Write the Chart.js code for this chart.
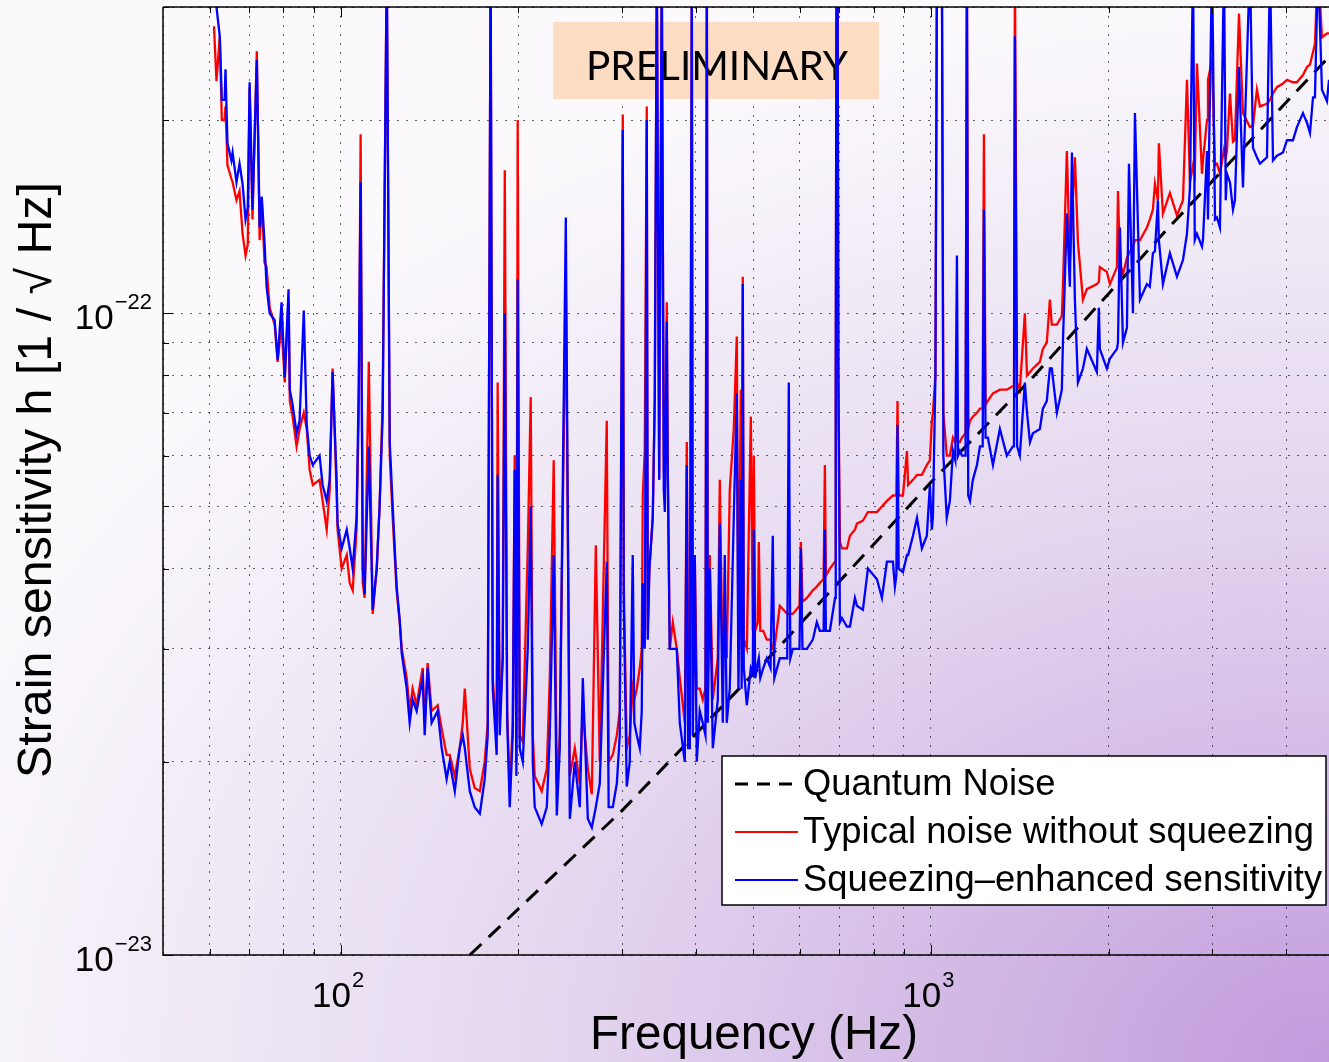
<!DOCTYPE html>
<html lang="en">
<head>
<meta charset="UTF-8">
<title>Strain sensitivity with and without squeezing</title>
<script src="https://cdn.jsdelivr.net/npm/chart.js"></script>
<style>
  html, body { margin: 0; padding: 0; }
  body {
    width: 1329px; height: 1062px; overflow: hidden;
    background: radial-gradient(ellipse 110% 100% at 100% 100%, #c29adc 0%, #d3bbe6 28%, #e3d5ef 52%, #efe8f5 76%, #fbf9fc 100%);
  }
  #chart { display: block; }
</style>
</head>
<body>
<canvas id="chart" width="1329" height="1062"></canvas>
<script>
// frequencies (Hz) shared by both measured traces
const freq = [
  61.0, 61.6, 62.4, 62.9, 63.6, 63.8, 64.3, 65.3, 65.6, 66.6, 67.4, 68.2, 69.0, 69.6, 70.1, 70.9,
  72.1, 72.9, 73.5, 74.3, 74.9, 75.8, 77.3, 78.2, 79.4, 80.4, 81.6, 82.0, 82.9, 84.2, 85.2, 86.6,
  87.6, 88.6, 89.7, 92.1, 93.2, 94.7, 95.8, 96.9, 98.4, 98.8, 100.4, 102.4, 103.6, 104.8, 106.4, 107.3,
  108.1, 109.0, 109.8, 111.6, 113.3, 115.1, 116.4, 117.8, 119.7, 121.1, 122.5, 124.4, 125.9, 126.9, 129.4, 130.9,
  132.4, 134.5, 137.7, 138.8, 140.4, 142.6, 146.0, 148.3, 151.2, 153.0, 156.1, 159.1, 161.0, 162.3, 165.5, 168.7,
  172.1, 175.4, 177.5, 179.5, 181.0, 183.8, 184.5, 186.0, 188.2, 189.7, 191.5, 193.4, 195.7, 197.2, 198.5, 199.5,
  201.1, 203.5, 207.5, 209.9, 211.6, 213.2, 219.1, 223.5, 226.1, 229.6, 232.4, 235.1, 240.7, 244.5, 249.3, 254.2,
  257.2, 262.3, 266.4, 270.6, 274.8, 282.4, 284.5, 289.1, 293.7, 297.1, 298.3, 300.6, 301.8, 305.3, 308.9, 312.5,
  314.5, 317.5, 321.2, 323.7, 325.0, 327.5, 330.1, 331.4, 333.5, 337.9, 340.6, 343.3, 346.5, 350.0, 352.8, 354.2,
  356.9, 358.3, 361.1, 365.4, 371.1, 375.5, 382.9, 385.9, 388.0, 390.5, 393.5, 395.1, 398.1, 401.2, 405.9, 410.7,
  415.0, 417.3, 418.8, 422.1, 427.1, 435.5, 438.9, 444.1, 447.5, 451.0, 456.3, 463.5, 469.0, 472.0, 476.4, 478.0,
  480.1, 482.0, 487.7, 495.4, 499.2, 501.2, 504.0, 509.1, 511.1, 514.0, 520.0, 527.2, 535.0, 539.7, 543.0, 554.7,
  571.0, 574.5, 578.0, 583.6, 599.0, 602.2, 606.0, 616.5, 631.0, 640.9, 648.5, 658.0, 661.3, 664.0, 674.4, 688.0,
  690.0, 692.0, 695.0, 697.0, 701.3, 706.9, 720.7, 729.2, 743.6, 749.4, 767.1, 782.3, 810.3, 826.2, 842.4, 862.4,
  869.1, 874.0, 878.0, 882.0, 896.8, 911.0, 915.0, 932.6, 947.3, 965.5, 984.5, 996.1, 1004, 1008, 1018, 1024,
  1044, 1050, 1064, 1077, 1090, 1100, 1107, 1112, 1120, 1129, 1145, 1151, 1157, 1165, 1178, 1197,
  1211, 1224, 1230, 1238, 1249, 1274, 1309, 1345, 1377, 1383, 1388, 1400, 1415, 1443, 1455, 1472,
  1489, 1530, 1548, 1572, 1591, 1603, 1635, 1667, 1674, 1700, 1720, 1734, 1754, 1775, 1810, 1838,
  1911, 1926, 1933, 1987, 2011, 2067, 2075, 2091, 2116, 2149, 2166, 2200, 2217, 2261, 2323, 2350,
  2378, 2397, 2425, 2434, 2473, 2541, 2612, 2674, 2716, 2748, 2781, 2800, 2824, 2880, 2891, 2937,
  2948, 2995, 3030, 3053, 3089, 3138, 3160, 3174, 3212, 3250, 3275, 3327, 3379, 3472, 3514, 3568,
  3611, 3711, 3755, 3799, 3858, 3950, 4012, 4107, 4171, 4270, 4338, 4389, 4441, 4475, 4528, 4599,
  4690, 4727
];

// strain, in units of 1e-23 / sqrt(Hz): typical noise without squeezing (red)
const typical = [
  28, 23, 27, 20, 20, 21, 17, 16.2, 16, 15, 15.5, 13.3, 12.3, 12.8, 22.5, 14,
  25.6, 13, 15, 12, 11.8, 10.2, 9.6, 8.4, 9.6, 7.8, 10.5, 7.3, 6.9, 6.2, 6.6, 7.0,
  6.6, 5.7, 5.4, 5.5, 5.1, 4.6, 5.3, 8.2, 5.3, 4.6, 4.0, 4.2, 3.8, 3.7, 4.6, 7.0,
  19, 3.8, 3.6, 8.4, 3.4, 4.0, 5.0, 7.3, 35, 6.0, 4.8, 3.7, 3.3, 3.0, 2.7, 2.4,
  2.6, 2.45, 2.8, 2.3, 2.85, 2.4, 2.45, 2.25, 2.05, 2.05, 1.9, 2.1, 2.3, 2.6, 1.95, 1.82,
  1.8, 2.0, 2.3, 35, 2.7, 2.2, 7.8, 2.3, 2.95, 16.7, 2.4, 1.8, 2.3, 6.0, 2.0, 20,
  2.2, 2.15, 4.3, 7.4, 2.2, 1.9, 1.8, 1.95, 2.7, 5.9, 1.85, 2.2, 11.0, 1.9, 2.1, 1.85,
  2.4, 1.95, 1.78, 4.35, 2.0, 6.8, 2.0, 2.05, 2.2, 2.4, 4.5, 20.4, 3.8, 2.1, 2.2, 2.6,
  2.5, 2.6, 2.8, 3.0, 5.2, 6.1, 21, 3.2, 4.0, 4.8, 7.4, 35, 5.5, 35, 5.7, 5.2,
  10.4, 5.8, 3.0, 3.3, 3.0, 2.7, 2.3, 6.3, 2.6, 2.6, 35, 2.4, 4.2, 2.6, 2.6, 2.5,
  2.6, 35, 2.7, 4.2, 2.5, 2.9, 5.5, 2.7, 3.5, 2.9, 5.3, 6.6, 9.2, 3.0, 7.6, 3.0,
  11.4, 3.1, 3.0, 6.9, 3.2, 6.0, 3.2, 3.3, 4.4, 3.2, 3.2, 3.1, 3.1, 3.0, 3.0, 3.5,
  3.4, 3.4, 3.4, 3.4, 3.5, 4.4, 3.55, 3.6, 3.7, 3.75, 3.8, 3.85, 5.8, 3.9, 4.0, 4.1,
  8, 35, 35, 8, 4.4, 4.3, 4.3, 4.5, 4.6, 4.7, 4.75, 4.9, 4.9, 5.0, 5.1, 5.2,
  5.2, 5.2, 7.3, 5.2, 5.2, 6.1, 5.4, 5.5, 5.6, 5.6, 5.8, 5.9, 6.8, 7.0, 8, 35,
  35, 7, 6.0, 6.0, 6.4, 6.3, 6.5, 6.3, 6.3, 6.4, 6.5, 35, 6.6, 6.8, 6.9, 7.0,
  7.1, 7.1, 19.0, 7.2, 7.3, 7.5, 7.6, 7.6, 7.7, 7.7, 35, 7.8, 7.6, 10.0, 8.0, 8.1,
  8.2, 8.4, 8.8, 9.0, 10.5, 9.6, 9.6, 9.9, 11.0, 17.9, 12.0, 14.0, 17.5, 12.9, 10.5, 10.9,
  11.1, 11.2, 11.8, 11.6, 11.1, 11.8, 15.5, 12.0, 11.5, 12.2, 12.4, 12.7, 13.0, 13.0, 13.6, 14.0,
  14.5, 15.9, 15.0, 18.4, 14.3, 15.4, 14.2, 15.0, 23.1, 16.0, 17.0, 16.5, 24.5, 16.5, 17.3, 20.0,
  23.1, 24.8, 17.0, 17.1, 16.5, 18.0, 17.5, 17.9, 22.0, 18.5, 18.6, 29.3, 20.5, 19.5, 19.6, 22.3,
  21.0, 21.2, 21.5, 22.0, 22.5, 22.8, 23.1, 22.9, 22.9, 23.5, 24.2, 24.4, 25.5, 26.3, 35, 26.9,
  27.3, 27.3
];

// strain, in units of 1e-23 / sqrt(Hz): squeezing-enhanced sensitivity (blue)
const squeezed = [
  32, 30, 27, 21.5, 21.5, 24, 18.4, 17.3, 17.8, 16, 17.1, 15.9, 14, 14.6, 22.9, 14.5,
  24.8, 13.6, 15.2, 12.9, 11, 10, 9.75, 8.45, 10.4, 7.95, 10.9, 7.6, 7.2, 6.5, 6.8, 10.1,
  6.7, 6.0, 5.8, 6.0, 5.4, 5.1, 5.5, 8.1, 5.55, 4.7, 4.3, 4.6, 4.3, 4.0, 4.8, 7.7,
  16, 4.0, 3.65, 6.2, 3.45, 4.0, 5.0, 6.9, 35, 6.3, 5.0, 3.75, 3.33, 2.95, 2.6, 2.3,
  2.5, 2.4, 2.7, 2.2, 2.8, 2.3, 2.4, 2.1, 1.88, 2.0, 1.8, 2.1, 2.2, 2.1, 1.8, 1.7,
  1.66, 1.88, 2.2, 35, 2.6, 2.05, 5.6, 2.2, 2.9, 10.0, 2.3, 1.7, 2.2, 5.7, 1.9, 11.3,
  2.1, 2.0, 3.0, 5.0, 2.0, 1.7, 1.6, 1.7, 2.2, 4.2, 1.65, 2.1, 14.1, 1.63, 2.0, 1.7,
  2.7, 1.63, 1.58, 1.7, 1.85, 4.1, 1.7, 1.7, 1.85, 2.2, 4.8, 19.3, 3.5, 1.83, 2.0, 4.2,
  2.3, 2.2, 2.1, 2.4, 3.8, 3.0, 20, 3.1, 4.0, 4.8, 7.4, 35, 5.5, 35, 5.3, 4.9,
  9.7, 5.6, 3.0, 3.0, 3.0, 2.3, 2.0, 5.8, 2.1, 2.1, 35, 2.2, 4.2, 2.0, 2.4, 2.3,
  2.2, 35, 2.3, 4.0, 2.1, 2.5, 4.7, 2.3, 4.2, 2.3, 2.6, 4.8, 7.5, 2.6, 5.5, 2.6,
  11.1, 2.8, 2.45, 2.8, 2.75, 4.6, 2.7, 2.85, 2.9, 2.7, 2.8, 2.9, 2.8, 4.5, 2.7, 2.9,
  2.9, 7.8, 2.9, 3.0, 3.0, 4.3, 3.0, 3.0, 3.1, 3.3, 3.2, 3.2, 4.6, 3.2, 3.2, 3.6,
  8, 35, 35, 8, 3.3, 3.35, 3.25, 3.25, 3.6, 3.5, 3.45, 4.0, 3.85, 3.6, 4.1, 4.1,
  3.75, 3.9, 6.7, 4.0, 3.95, 4.2, 4.2, 4.5, 4.8, 4.3, 4.5, 5.4, 4.6, 4.8, 8, 35,
  35, 6, 4.8, 5.1, 6.1, 5.9, 12.3, 6.0, 6.1, 6.0, 6.0, 35, 5.2, 5.1, 5.5, 5.8,
  6.2, 6.2, 14.5, 6.4, 6.4, 5.8, 6.6, 6.0, 6.2, 6.2, 27, 6.2, 6.0, 7.8, 7.0, 6.3,
  6.5, 6.6, 7.1, 7.3, 8.2, 8.2, 7.0, 7.6, 9.0, 14.3, 11.0, 17.8, 10.5, 7.8, 8.2, 8.8,
  8.1, 10.2, 8.8, 8.2, 8.5, 8.8, 9.0, 13.6, 9.0, 9.5, 17.1, 10.0, 20.5, 10.5, 11.1, 11.0,
  12.4, 12.5, 15.0, 13.0, 11.1, 12.4, 11.4, 12.1, 13.3, 15.7, 35, 13.0, 13.3, 12.7, 13.0, 17.9,
  14.0, 35, 14.0, 14.1, 13.6, 35, 15.0, 16.5, 16.0, 14.5, 15.0, 24.2, 15.7, 35, 18.1, 17.5,
  17.1, 17.5, 35, 17.3, 17.6, 17.8, 18.6, 18.6, 19.5, 20.5, 19.8, 19.1, 21.7, 21.7, 35, 22.3,
  21.4, 23.1
];

// quantum noise model (dashed), same units
const qnFreq  = [165.5, 300, 540, 1000, 1489, 2474, 4708, 4727];
const qnNoise = [1.0, 1.68, 2.95, 5.45, 7.95, 13.3, 25.0, 25.1];

// axis ranges, grid positions and labelled decades
const xRange = [50, 4727];
const yRange = [1e-23, 3e-22];
const xGrid = [50, 60, 70, 80, 90, 100, 200, 300, 400, 500, 600, 700, 800, 900, 1000, 2000, 3000, 4000];
const yGrid = [1, 2, 3, 4, 5, 6, 7, 8, 9, 10, 20, 30].map(v => v * 1e-23);
const xMajor = [100, 1000];
const xMajorExp = ['2', '3'];
const yMajor = [1e-22, 1e-23];
const yMajorExp = ['\u221222', '\u221223'];

const UNIT = 1e-23;
const SANS = '"Liberation Sans", Arial, Helvetica, sans-serif';

const legendItems = [
  { text: 'Quantum Noise', color: '#000000', dash: [13, 9], width: 3 },
  { text: 'Typical noise without squeezing', color: '#ff0000', dash: [], width: 2 },
  { text: 'Squeezing\u2013enhanced sensitivity', color: '#0000ff', dash: [], width: 2 }
];

function fitFont(ctx, text, width, family) {
  ctx.font = '100px ' + family;
  const size = 100 * width / ctx.measureText(text).width;
  ctx.font = size.toFixed(2) + 'px ' + family;
  return size;
}

// "10" with a raised exponent, the way the decades are labelled
function drawPow(ctx, x, y, exp, align) {
  ctx.font = '35px ' + SANS;
  const wb = ctx.measureText('10').width;
  ctx.font = '22px ' + SANS;
  const we = ctx.measureText(exp).width;
  const left = align === 'center' ? x - (wb + we) / 2 : x - wb - we;
  ctx.textAlign = 'left';
  ctx.textBaseline = 'middle';
  ctx.font = '35px ' + SANS;
  ctx.fillText('10', left, y);
  ctx.font = '22px ' + SANS;
  ctx.fillText(exp, left + wb + 1, y - 16);
}

const decor = {
  id: 'decor',
  beforeDatasetsDraw(chart) {
    // preliminary stamp sits behind the traces
    const { ctx } = chart;
    ctx.save();
    ctx.fillStyle = '#fcdcc3';
    ctx.fillRect(553, 22, 326, 77);
    ctx.fillStyle = '#000';
    fitFont(ctx, 'PRELIMINARY', 262, 'Lato, "Open Sans", sans-serif');
    ctx.textAlign = 'center';
    ctx.textBaseline = 'alphabetic';
    ctx.fillText('PRELIMINARY', 717, 80);
    ctx.restore();
  },
  afterDraw(chart) {
    const { ctx, chartArea: ca } = chart;
    const xs = chart.scales.x, ys = chart.scales.y;
    ctx.save();

    // box lines (no right edge, the figure is cut there)
    ctx.strokeStyle = '#000';
    ctx.lineWidth = 1.5;
    ctx.beginPath();
    ctx.moveTo(ca.left, ca.top); ctx.lineTo(ca.right, ca.top);
    ctx.moveTo(ca.left, ca.top); ctx.lineTo(ca.left, ca.bottom);
    ctx.lineTo(ca.right, ca.bottom);
    ctx.stroke();

    // inward tick marks
    ctx.lineWidth = 1;
    ctx.beginPath();
    xGrid.forEach(v => {
      if (v === xRange[0]) return;
      const px = Math.round(xs.getPixelForValue(v)) + 0.5;
      const len = xMajor.includes(v) ? 10 : 6;
      ctx.moveTo(px, ca.bottom); ctx.lineTo(px, ca.bottom - len);
      ctx.moveTo(px, ca.top); ctx.lineTo(px, ca.top + len);
    });
    yGrid.forEach(v => {
      const py = Math.round(ys.getPixelForValue(v)) + 0.5;
      const len = yMajor.some(m => Math.abs(m - v) < 1e-30) ? 10 : 6;
      ctx.moveTo(ca.left, py); ctx.lineTo(ca.left + len, py);
    });
    ctx.stroke();

    // decade labels
    ctx.fillStyle = '#000';
    xMajor.forEach((v, i) => drawPow(ctx, xs.getPixelForValue(v) - 3, ca.bottom + 42, xMajorExp[i], 'center'));
    yMajor.forEach((v, i) => drawPow(ctx, ca.left - 12, ys.getPixelForValue(v) + 6, yMajorExp[i], 'right'));

    // axis titles
    ctx.textAlign = 'center';
    ctx.textBaseline = 'middle';
    fitFont(ctx, 'Frequency (Hz)', 328, SANS);
    ctx.fillText('Frequency (Hz)', 754, 1036);
    ctx.save();
    ctx.translate(38, 480);
    ctx.rotate(-Math.PI / 2);
    fitFont(ctx, 'Strain sensitivity h [1 / \u221a Hz]', 596, SANS);
    ctx.fillText('Strain sensitivity h [1 / \u221a Hz]', 0, 0);
    ctx.restore();

    // legend box
    const lx = 722, ly = 756, lw = 604, lh = 149;
    ctx.fillStyle = '#fff';
    ctx.fillRect(lx, ly, lw, lh);
    ctx.strokeStyle = '#000';
    ctx.lineWidth = 1.5;
    ctx.strokeRect(lx, ly, lw, lh);
    const size = fitFont(ctx, legendItems[1].text, 511, SANS);
    legendItems.forEach((it, i) => {
      const y = ly + 28 + i * 48;
      ctx.beginPath();
      ctx.setLineDash(it.dash);
      ctx.strokeStyle = it.color;
      ctx.lineWidth = it.width;
      ctx.moveTo(lx + 13, y); ctx.lineTo(lx + 76, y);
      ctx.stroke();
      ctx.setLineDash([]);
      ctx.fillStyle = '#000';
      ctx.font = size.toFixed(2) + 'px ' + SANS;
      ctx.textAlign = 'left';
      ctx.textBaseline = 'middle';
      ctx.fillText(it.text, lx + 81, y + 1);
    });
    ctx.restore();
  }
};

const gridStyle = { color: 'rgba(0,0,0,0.6)', lineWidth: 1, drawTicks: false };

new Chart(document.getElementById('chart'), {
  type: 'line',
  data: {
    datasets: [
      {
        label: 'Squeezing\u2013enhanced sensitivity',
        data: freq.map((f, i) => ({ x: f, y: squeezed[i] * UNIT })),
        borderColor: '#0000ff', borderWidth: 2.3, pointRadius: 0, order: 0
      },
      {
        label: 'Quantum Noise',
        data: qnFreq.map((f, i) => ({ x: f, y: qnNoise[i] * UNIT })),
        borderColor: '#000000', borderWidth: 3, borderDash: [16, 10], pointRadius: 0, order: 1
      },
      {
        label: 'Typical noise without squeezing',
        data: freq.map((f, i) => ({ x: f, y: typical[i] * UNIT })),
        borderColor: '#ff0000', borderWidth: 2.3, pointRadius: 0, order: 2
      }
    ]
  },
  options: {
    responsive: false,
    animation: false,
    events: [],
    layout: { padding: { top: 7, right: 0, bottom: 0, left: 0 } },
    plugins: { legend: { display: false }, tooltip: { enabled: false } },
    elements: { line: { tension: 0, borderJoinStyle: 'miter' } },
    scales: {
      x: {
        type: 'logarithmic', min: xRange[0], max: xRange[1],
        afterBuildTicks: s => { s.ticks = xGrid.map(v => ({ value: v })); },
        afterFit: s => { s.height = 107; },
        ticks: { display: false, autoSkip: false },
        grid: gridStyle,
        border: { display: false, dash: [2, 7] }
      },
      y: {
        type: 'logarithmic', min: yRange[0], max: yRange[1],
        afterBuildTicks: s => { s.ticks = yGrid.map(v => ({ value: v })); },
        afterFit: s => { s.width = 163; },
        ticks: { display: false, autoSkip: false },
        grid: gridStyle,
        border: { display: false, dash: [2, 7] }
      }
    }
  },
  plugins: [decor]
});
</script>
</body>
</html>
